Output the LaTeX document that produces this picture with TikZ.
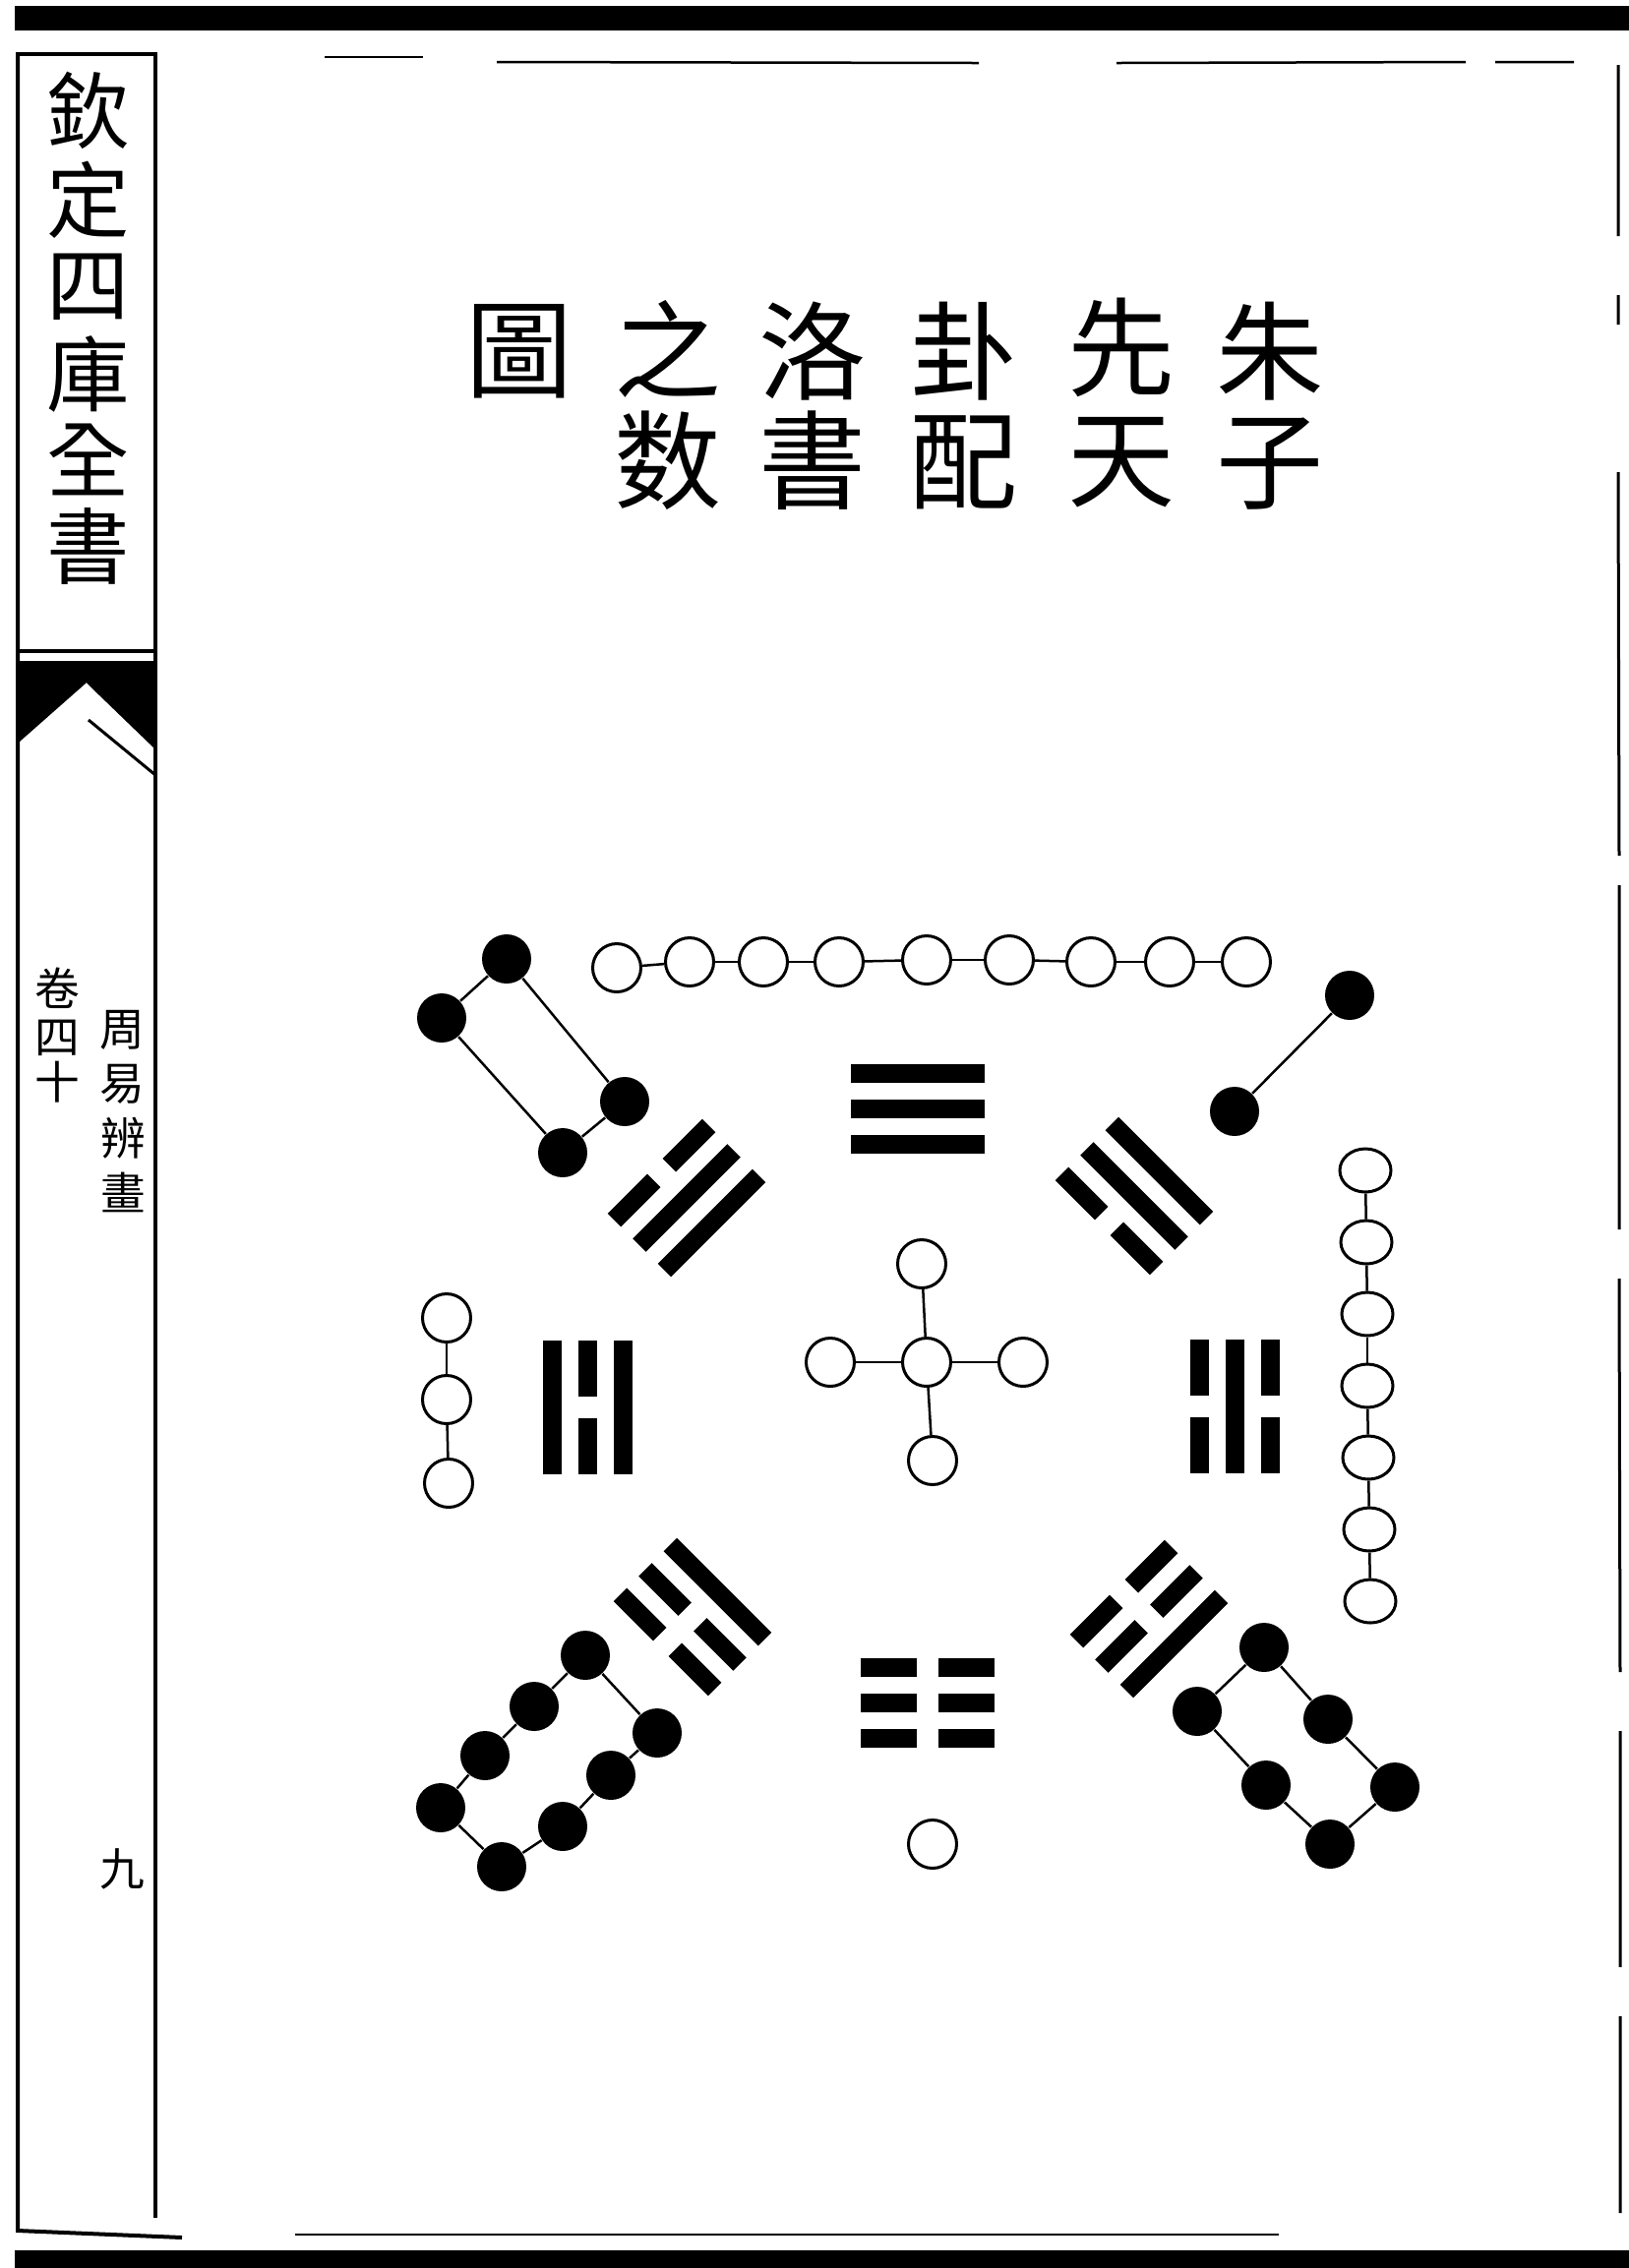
\documentclass[tikz,border=0pt]{standalone}
\usepackage{fontspec}
\newfontfamily\cjk{Noto Sans CJK TC}
\usetikzlibrary{shapes.geometric}

% one line of a trigram: offset, 1 = whole, 0 = broken
\newcommand{\yao}[2]{%
  \ifnum#2=1
    \draw[line width=1.9mm] (-68,#1) -- (68,#1);
  \else
    \draw[line width=1.9mm] (-68,#1) -- (-11,#1) (11,#1) -- (68,#1);
  \fi}
% trigram: x, y, turn, inner, middle, outer line
\newcommand{\gua}[6]{%
  \begin{scope}[shift={(#1,#2)}, rotate=#3]
    \yao{36}{#4}\yao{0}{#5}\yao{-36}{#6}
  \end{scope}}

\begin{document}
\begin{tikzpicture}[
  x=0.1mm, y=-0.1mm,
  every node/.style={inner sep=0pt},
  yang/.style={draw, circle, line width=0.3mm, minimum size=4.9mm},
  yangflat/.style={draw, ellipse, line width=0.3mm, minimum width=5.2mm, minimum height=4.4mm},
  yin/.style={fill, circle, minimum size=5mm},
  tie/.style={line width=0.25mm},
  headchar/.style={font=\cjk\fontsize{31}{31}\selectfont},
  sidechar/.style={font=\cjk\fontsize{24}{24}\selectfont},
  notechar/.style={font=\cjk\fontsize{13}{13}\selectfont}
]
\useasboundingbox (0,0) rectangle (1656,2306);
\fill[white] (0,0) rectangle (1656,2306);

% page frame
\fill (15,6) rectangle (1656,31);
\fill (15,2288) rectangle (1656,2306);
\draw[line width=0.4mm] (18,53) -- (18,2268) -- (185,2275);
\draw[line width=0.4mm] (18,55) -- (158,55) -- (158,2255);
\draw[line width=0.35mm] (18,662) -- (158,662);
\fill (20,672) -- (158,672) -- (158,762) -- (100,706) -- (88,694) -- (20,754) -- cycle;
\draw[line width=0.3mm] (90,732) -- (158,788);
\draw[line width=0.25mm] (505,63) -- (995,64) (1135,64) -- (1490,63) (1520,63) -- (1600,63);
\draw[line width=0.2mm] (330,58) -- (430,58);
\draw[line width=0.3mm] (1645,66) -- (1645,240) (1645,300) -- (1645,330) (1645,480) -- (1646,870)
  (1646,900) -- (1646,1250) (1646,1300) -- (1647,1700) (1647,1760) -- (1647,2000) (1647,2050) -- (1647,2250);
\draw[line width=0.25mm] (300,2272) -- (1300,2272);

% margin column
\node[sidechar] (qin) at (90,112) {欽};
\node[sidechar] (ding) at (90,203) {定};
\node[sidechar] (si) at (90,292) {四};
\node[sidechar] (ku) at (90,380) {庫};
\node[sidechar] (quan) at (90,467) {全};
\node[sidechar] (shu) at (90,555) {書};
\node[notechar] (juan) at (58,1005) {卷};
\node[notechar] (juansi) at (58,1055) {四};
\node[notechar] (shi) at (58,1100) {十};
\node[notechar] (zhou) at (124,1047) {周};
\node[notechar] (yi) at (124,1102) {易};
\node[notechar] (bian) at (125,1157) {辨};
\node[notechar] (hua) at (125,1212) {畫};
\node[notechar] (jiu) at (124,1900) {九};

% title
\node[headchar] (tu) at (528,357) {圖};
\node[headchar] (zhi) at (679,355) {之};  \node[headchar] (shu2) at (679,468) {数};
\node[headchar] (luo) at (826,357) {洛};  \node[headchar] (shu3) at (826,468) {書};
\node[headchar] (gua) at (980,357) {卦};  \node[headchar] (pei) at (980,470) {配};
\node[headchar] (xian) at (1140,353) {先}; \node[headchar] (tian) at (1140,470) {天};
\node[headchar] (zhu) at (1291,357) {朱};  \node[headchar] (zi) at (1291,472) {子};

% eight trigrams
\gua{933}{1127}{0}{1}{1}{1}
\gua{698}{1218}{45}{1}{1}{0}
\gua{597}{1431}{90}{1}{0}{1}
\gua{704}{1644}{135}{1}{0}{0}
\gua{943}{1731}{180}{0}{0}{0}
\gua{1168}{1646}{225}{0}{0}{1}
\gua{1255}{1430}{-90}{0}{1}{0}
\gua{1153}{1216}{-45}{0}{1}{1}

% nine
\node[yang] (t1) at (627,984) {}; \node[yang] (t2) at (701,978) {}; \node[yang] (t3) at (776,978) {};
\node[yang] (t4) at (853,978) {}; \node[yang] (t5) at (942,976) {}; \node[yang] (t6) at (1026,976) {};
\node[yang] (t7) at (1109,978) {}; \node[yang] (t8) at (1189,978) {}; \node[yang] (t9) at (1267,978) {};
\draw[tie] (t1)--(t2); \draw[tie] (t2)--(t3); \draw[tie] (t3)--(t4); \draw[tie] (t4)--(t5);
\draw[tie] (t5)--(t6); \draw[tie] (t6)--(t7); \draw[tie] (t7)--(t8); \draw[tie] (t8)--(t9);

% three
\node[yang] (l1) at (454,1340) {}; \node[yang] (l2) at (454,1423) {}; \node[yang] (l3) at (456,1508) {};
\draw[tie] (l1)--(l2); \draw[tie] (l2)--(l3);

% five
\node[yang] (c0) at (942,1385) {};
\node[yang] (ct) at (937,1285) {}; \node[yang] (cb) at (948,1485) {};
\node[yang] (cl) at (844,1385) {}; \node[yang] (cr) at (1040,1385) {};
\draw[tie] (c0)--(ct); \draw[tie] (c0)--(cb); \draw[tie] (c0)--(cl); \draw[tie] (c0)--(cr);

% seven
\node[yangflat] (r1) at (1388,1190) {}; \node[yangflat] (r2) at (1389,1263) {};
\node[yangflat] (r3) at (1390,1336) {}; \node[yangflat] (r4) at (1390,1409) {};
\node[yangflat] (r5) at (1391,1482) {}; \node[yangflat] (r6) at (1392,1555) {};
\node[yangflat] (r7) at (1393,1628) {};
\draw[tie] (r1)--(r2); \draw[tie] (r2)--(r3); \draw[tie] (r3)--(r4);
\draw[tie] (r4)--(r5); \draw[tie] (r5)--(r6); \draw[tie] (r6)--(r7);

% one
\node[yang] (b1) at (948,1875) {};

% four
\node[yin] (a1) at (515,975) {}; \node[yin] (a2) at (449,1035) {};
\node[yin] (a3) at (635,1120) {}; \node[yin] (a4) at (572,1172) {};
\draw[tie] (a1)--(a2); \draw[tie] (a1)--(a3); \draw[tie] (a2)--(a4); \draw[tie] (a3)--(a4);

% two
\node[yin] (p1) at (1372,1012) {}; \node[yin] (p2) at (1255,1130) {};
\draw[tie] (p1)--(p2);

% eight
\node[yin] (d1) at (595,1683) {}; \node[yin] (d2) at (543,1735) {};
\node[yin] (d3) at (493,1785) {}; \node[yin] (d4) at (448,1838) {};
\node[yin] (d5) at (510,1898) {}; \node[yin] (d6) at (572,1857) {};
\node[yin] (d7) at (621,1805) {}; \node[yin] (d8) at (668,1762) {};
\draw[tie] (d1)--(d2); \draw[tie] (d2)--(d3); \draw[tie] (d3)--(d4); \draw[tie] (d4)--(d5);
\draw[tie] (d5)--(d6); \draw[tie] (d6)--(d7); \draw[tie] (d7)--(d8); \draw[tie] (d8)--(d1);

% six
\node[yin] (e1) at (1285,1675) {}; \node[yin] (e2) at (1217,1740) {};
\node[yin] (e3) at (1350,1748) {}; \node[yin] (e4) at (1287,1815) {};
\node[yin] (e5) at (1418,1817) {}; \node[yin] (e6) at (1352,1875) {};
\draw[tie] (e1)--(e2); \draw[tie] (e1)--(e3); \draw[tie] (e2)--(e4);
\draw[tie] (e3)--(e5); \draw[tie] (e4)--(e6); \draw[tie] (e5)--(e6);
\end{tikzpicture}
\end{document}
